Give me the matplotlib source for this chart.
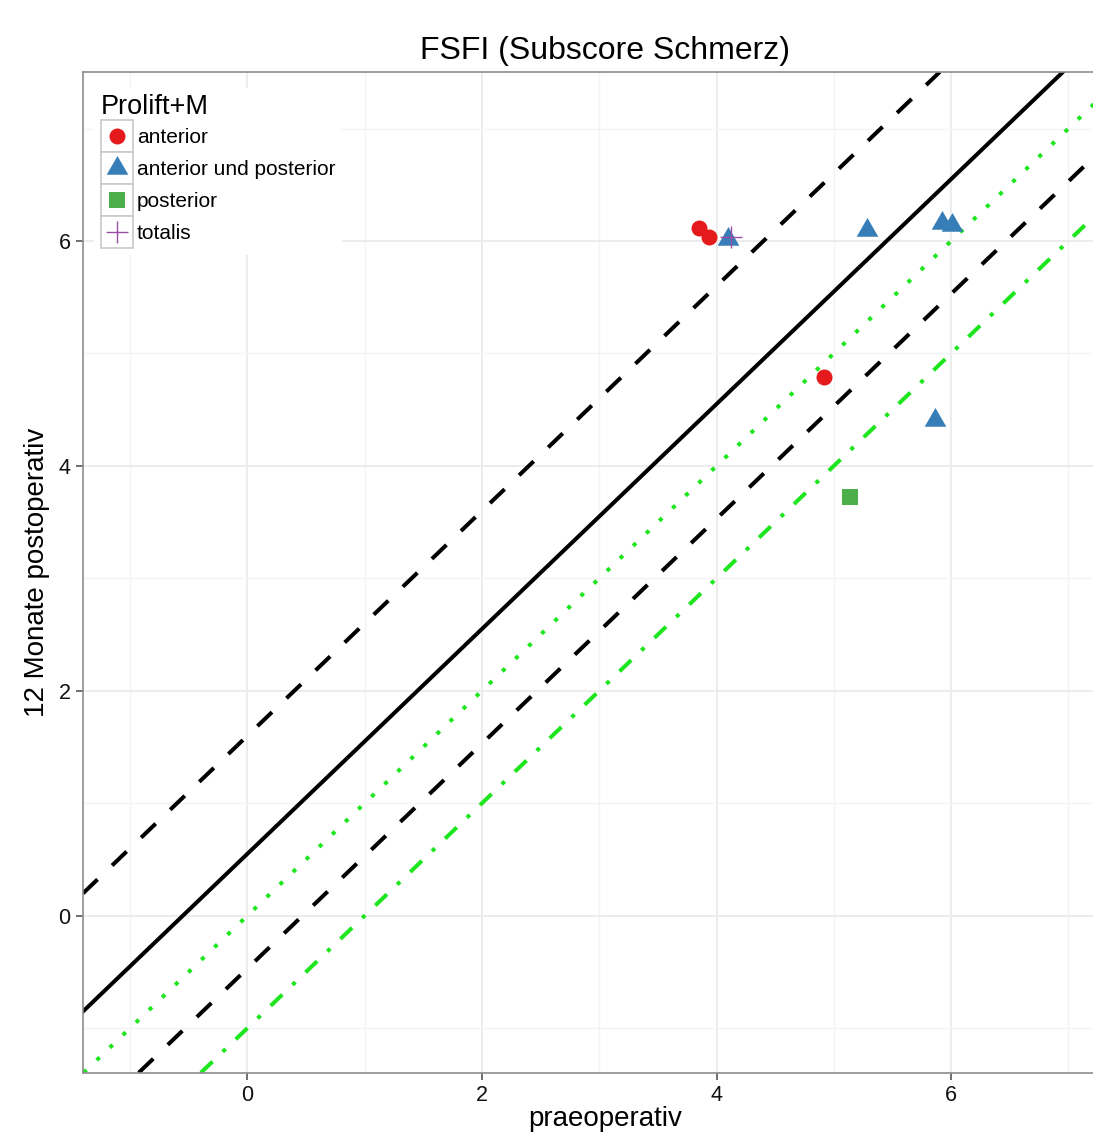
import matplotlib
matplotlib.use("Agg")
import matplotlib.pyplot as plt
from matplotlib.legend_handler import HandlerBase
from matplotlib.patches import Rectangle
from matplotlib.lines import Line2D

plt.rcParams['font.family'] = ['Liberation Sans', 'DejaVu Sans']

# ---- data ----
title = "FSFI (Subscore Schmerz)"
xlabel = "praeoperativ"
ylabel = "12 Monate postoperativ"
legend_title = "Prolift+M"
groups = ["anterior", "anterior und posterior", "posterior", "totalis"]

anterior_x = [3.85, 3.94, 4.92]
anterior_y = [6.12, 6.04, 4.79]
ant_post_x = [4.10, 5.28, 5.92, 6.01, 5.86]
ant_post_y = [6.02, 6.10, 6.16, 6.14, 4.41]
posterior_x = [5.14]
posterior_y = [3.72]
totalis_x = [4.12]
totalis_y = [6.04]

# reference lines y = x + intercept
mean_diff = 0.55
upper_loa = 1.60
lower_loa = -0.47
identity_icpt = 0.0
threshold_icpt = -1.0

x_ticks = [0, 2, 4, 6]
y_ticks = [0, 2, 4, 6]
x_minor = [-1, 1, 3, 5, 7]
y_minor = [-1, 1, 3, 5, 7]

# ---- figure ----
W, H = 1093, 1135
fig = plt.figure(figsize=(W / 100, H / 100), dpi=100)
left_px, right_px, top_px, bottom_px = 83, 1127, 72, 1072.7
ax = fig.add_axes([left_px / W, 1 - bottom_px / H, (right_px - left_px) / W, (bottom_px - top_px) / H])
ax.set_xlim(-1.401, (right_px - 247.3) / 117.3)
ax.set_ylim(-1.396, 7.503)

ax.set_xticks(x_ticks)
ax.set_yticks(y_ticks)
ax.set_xticks(x_minor, minor=True)
ax.set_yticks(y_minor, minor=True)
ax.grid(True, which='major', color='#ebebeb', lw=1.3, zorder=0)
ax.grid(True, which='minor', color='#f4f4f4', lw=1.0, zorder=0)
ax.tick_params(which='minor', length=0)
ax.tick_params(which='major', length=5, width=1.2, color='#555555', labelsize=15.5,
               labelcolor='#111111', direction='out', pad=4)
for s in ax.spines.values():
    s.set_color('#8c8c8c')
    s.set_linewidth(1.2)
ax.set_axisbelow(True)

col_red = '#E41A1C'
col_blue = '#377EB8'
col_green = '#4DAF4A'
col_purple = '#984EA3'
tri = [(-1, -0.577), (1, -0.577), (0, 1.155)]

h1, = ax.plot(anterior_x, anterior_y, 'o', color=col_red, ms=11.5, mew=0, zorder=3)
h2, = ax.plot(ant_post_x, ant_post_y, ls='none', marker=tri, color=col_blue, ms=18, mew=0, zorder=3)
h3, = ax.plot(posterior_x, posterior_y, 's', color=col_green, ms=11.5, mew=0, zorder=3)
h4, = ax.plot(totalis_x, totalis_y, '+', color=col_purple, ms=16, mew=1.0, zorder=4)

lw = 2.9
ax.axline((0, mean_diff), slope=1, color='black', lw=lw, zorder=2)
ax.axline((0, upper_loa), slope=1, color='black', lw=lw, dashes=(5, 5), zorder=2)
ax.axline((0, lower_loa), slope=1, color='black', lw=lw, dashes=(5, 5), zorder=2)
ax.axline((0, identity_icpt), slope=1, color='#1EE61E', lw=lw, dashes=(1, 3.5), zorder=2)
ax.axline((0, threshold_icpt), slope=1, color='#1EE61E', lw=lw, dashes=(4, 3.5, 1, 3.5), zorder=2)

ax.set_title(title, fontsize=23, pad=9)
ax.set_xlabel(xlabel, fontsize=20, labelpad=0)
ax.set_ylabel(ylabel, fontsize=20, labelpad=6)


class KeyHandler(HandlerBase):
    def create_artists(self, legend, orig_handle, xdescent, ydescent, width, height, fontsize, trans):
        rect = Rectangle((-xdescent, -ydescent), width, height, facecolor='white',
                         edgecolor='#c8c8c8', lw=1.2, transform=trans)
        ln = Line2D([width / 2 - xdescent], [height / 2 - ydescent], ls='none',
                    marker=orig_handle.get_marker(), color=orig_handle.get_color(),
                    ms=orig_handle.get_markersize(), mew=orig_handle.get_markeredgewidth(),
                    transform=trans)
        return [rect, ln]


handles = [h1, h2, h3, h4]
hm = {h: KeyHandler() for h in handles}
leg = ax.legend(handles, groups, title=legend_title, loc='upper left',
                bbox_to_anchor=(0.011, 0.984), fontsize=15, title_fontsize=19.5,
                handler_map=hm, handlelength=1.54, handleheight=1.99, labelspacing=0.0,
                handletextpad=0.2, borderpad=0.3, frameon=True, fancybox=False,
                borderaxespad=0.0, alignment='left')
leg.get_frame().set_edgecolor('none')
leg.get_frame().set_facecolor('white')
leg.get_frame().set_alpha(1)

fig.savefig("out.png", dpi=100)
